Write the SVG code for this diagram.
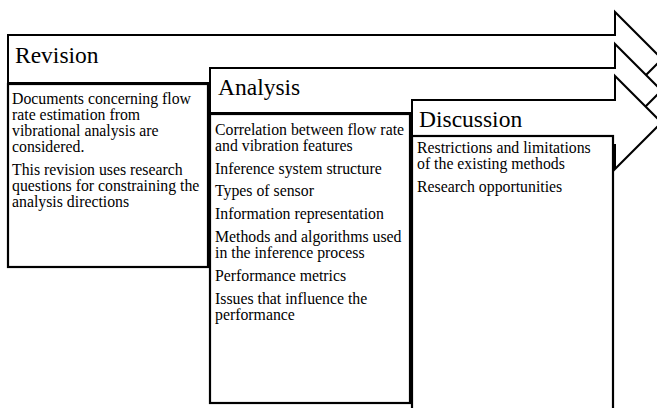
<svg xmlns="http://www.w3.org/2000/svg" width="657" height="408" viewBox="0 0 657 408">
  <style>
    .arrow { fill: #ffffff; stroke: #000000; stroke-width: 2; stroke-linejoin: miter; }
    .box { fill: #ffffff; stroke: #000000; stroke-width: 2.2; }
    .title { font-family: "Liberation Serif", "Times New Roman", serif; font-size: 23.5px; fill: #000000; }
    .body { font-family: "Liberation Serif", "Times New Roman", serif; font-size: 15.8px; fill: #000000; }
  </style>
  <rect width="657" height="408" fill="#ffffff"/>
  <g id="revision">
    <polygon class="arrow" points="8,35 615,35 615,12 662,59 615,106 615,83 8,83"/>
    <rect class="box" x="8" y="84" width="200" height="183"/>
    <text class="title" x="15" y="63">Revision</text>
    <text class="body" x="12">
      <tspan x="12" y="104">Documents concerning flow</tspan>
      <tspan x="12" y="120">rate estimation from</tspan>
      <tspan x="12" y="136">vibrational analysis are</tspan>
      <tspan x="12" y="152">considered.</tspan>
      <tspan x="12" y="175">This revision uses research</tspan>
      <tspan x="12" y="191">questions for constraining the</tspan>
      <tspan x="12" y="207">analysis directions</tspan>
    </text>
  </g>
  <g id="analysis">
    <polygon class="arrow" points="210,68 615,68 615,44 661.5,90.5 615,137 615,113 210,113"/>
    <rect class="box" x="210" y="114" width="200" height="289"/>
    <text class="title" x="218" y="95">Analysis</text>
    <text class="body">
      <tspan x="215" y="135">Correlation between flow rate</tspan>
      <tspan x="215" y="151">and vibration features</tspan>
      <tspan x="215" y="174">Inference system structure</tspan>
      <tspan x="215" y="196">Types of sensor</tspan>
      <tspan x="215" y="219">Information representation</tspan>
      <tspan x="215" y="242">Methods and algorithms used</tspan>
      <tspan x="215" y="258">in the inference process</tspan>
      <tspan x="215" y="281">Performance metrics</tspan>
      <tspan x="215" y="304">Issues that influence the</tspan>
      <tspan x="215" y="320">performance</tspan>
    </text>
  </g>
  <g id="discussion">
    <polygon class="arrow" points="412,100 615,100 615,76 661.5,122.5 615,169 615,145 412,145"/>
    <rect class="box" x="412" y="136" width="201" height="280"/>
    <text class="title" x="419" y="127">Discussion</text>
    <text class="body">
      <tspan x="417" y="153">Restrictions and limitations</tspan>
      <tspan x="417" y="169">of the existing methods</tspan>
      <tspan x="417" y="192">Research opportunities</tspan>
    </text>
  </g>
  <g id="connectors"></g>
</svg>
